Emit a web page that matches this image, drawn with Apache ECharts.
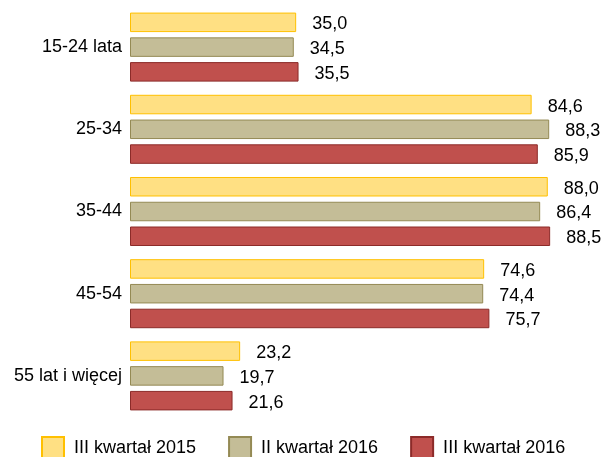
<!DOCTYPE html>
<html>
<head>
<meta charset="utf-8">
<script src="https://cdn.jsdelivr.net/npm/echarts@6/dist/echarts.min.js"></script>
<style>
  html, body { margin: 0; padding: 0; background: #fff; }
  #chart { width: 604px; height: 457px; }
</style>
</head>
<body>
<div id="chart"></div>
<script>
const categories = ['15-24 lata', '25-34', '35-44', '45-54', '55 lat i więcej']
const seriesNames = ['III kwartał 2015', 'II kwartał 2016', 'III kwartał 2016']
const q3_2015 = [35.0, 84.6, 88.0, 74.6, 23.2]
const q2_2016 = [34.5, 88.3, 86.4, 74.4, 19.7]
const q3_2016 = [35.5, 85.9, 88.5, 75.7, 21.6]

const fills = ['#FFE083', '#C4BD97', '#C0504D']
const borders = ['#FFC000', '#948A54', '#8C2B29']
const values = [q3_2015, q2_2016, q3_2016]

const chart = echarts.init(document.getElementById('chart'))

const font = 'Liberation Sans, Arial, sans-serif'

chart.setOption({
  animation: false,
  textStyle: { fontFamily: font },
  legend: {
    data: seriesNames,
    icon: 'rect',
    left: 36,
    top: 431,
    itemWidth: 22,
    itemHeight: 22,
    itemGap: 32,
    textStyle: { fontSize: 18, color: '#000', fontFamily: font, padding: [0, 0, 0, 5] }
  },
  grid: { left: 130, right: 4, top: 6, bottom: 40 },
  xAxis: {
    type: 'value',
    min: 0,
    max: 99,
    show: false
  },
  yAxis: {
    type: 'category',
    data: categories,
    inverse: true,
    axisLine: { show: false },
    axisTick: { show: false },
    axisLabel: { fontSize: 18, color: '#000', margin: 8, fontFamily: font, padding: [4, 0, 0, 0] }
  },
  series: seriesNames.map((name, i) => ({
    name: name,
    type: 'bar',
    data: values[i],
    barWidth: 19.5,
    barGap: '27%',
    itemStyle: { color: fills[i], borderColor: borders[i], borderWidth: 1 },
    label: {
      show: true,
      position: 'right',
      distance: 16,
      offset: [0, 2],
      fontSize: 18,
      color: '#000',
      fontFamily: font,
      formatter: p => p.value.toFixed(1).replace('.', ',')
    }
  }))
})
</script>
</body>
</html>
